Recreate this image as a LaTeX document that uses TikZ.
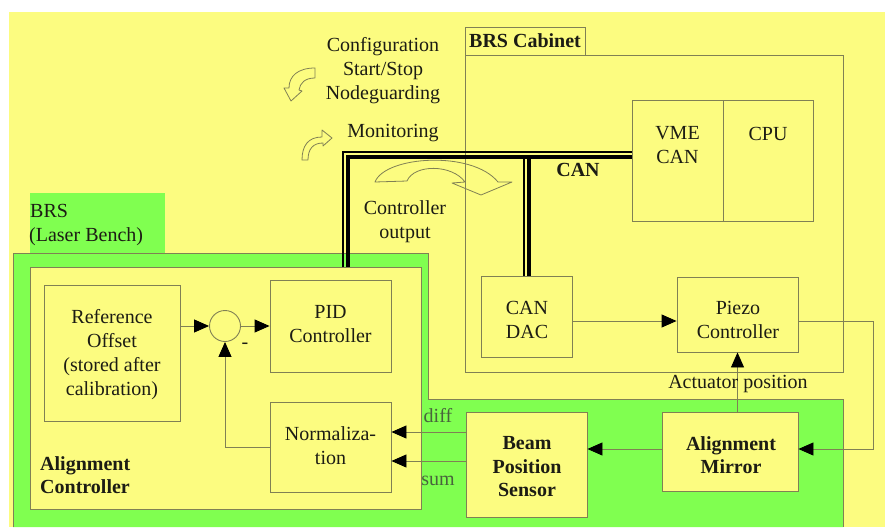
\documentclass[tikz,border=0pt]{standalone}
\usepackage{fontspec}
\setmainfont{Liberation Serif}
\usetikzlibrary{arrows.meta}
\definecolor{bgyellow}{RGB}{252,252,128}
\definecolor{bggreen}{RGB}{128,255,80}
\definecolor{edge}{RGB}{128,128,84}
\definecolor{ink}{RGB}{28,28,20}
\definecolor{sigtext}{RGB}{72,100,60}
\begin{document}
\begin{tikzpicture}[x=1pt,y=-1pt,
  font=\fontsize{20}{24}\selectfont, text=ink,
  blockbox/.style={draw=edge, line width=0.9pt, fill=bgyellow, inner sep=0pt},
  txt/.style={align=center, inner sep=0pt},
  btxt/.style={align=center, inner sep=0pt, font=\fontsize{20}{23.5}\selectfont\bfseries},
  arr/.style={draw=edge, line width=0.9pt, -{Triangle[length=15pt,width=13pt,color=black,fill=black]}},
  hollow/.style={draw=edge, line width=0.8pt, line join=round},
  busthick/.style={draw=black, line width=4.5pt},
  busthin/.style={draw=black, line width=1.5pt}]
\useasboundingbox (0,0) rectangle (885,527);
\fill[white] (0,0) rectangle (885,527);
\fill[bgyellow] (9,12) rectangle (885,527);
% green areas
\fill[bggreen] (30,193) rectangle (165,254);
\draw[edge, line width=0.8pt, fill=bggreen] (13,527) -- (13,253) -- (428,253) -- (428,399) -- (843,399) -- (843,527);
\node[anchor=base west, inner sep=0pt] (brs1) at (30,217) {BRS};
\node[anchor=base west, inner sep=0pt] (brs2) at (29,241) {(Laser Bench)};
% alignment controller
\node[blockbox, minimum width=391pt, minimum height=242pt] (ac) at (225.5,388) {};
\node[anchor=base west, inner sep=0pt, font=\fontsize{20}{24}\selectfont\bfseries] (ac1) at (40,470) {Alignment};
\node[anchor=base west, inner sep=0pt, font=\fontsize{20}{24}\selectfont\bfseries] (ac2) at (40,493) {Controller};
\node[blockbox, minimum width=136pt, minimum height=136pt] (ref) at (112,353) {};
\node[txt] (refT) at (112,355) {Reference\\Offset\\(stored after\\calibration)};
\node[draw=edge, line width=0.9pt, fill=bgyellow, circle, minimum size=31pt, inner sep=0pt] (sum) at (225,326) {};
\node[blockbox, minimum width=121pt, minimum height=92pt] (pid) at (330.5,326) {};
\node[txt] (pidT) at (330.5,324) {PID\\Controller};
\node[blockbox, minimum width=121pt, minimum height=90pt] (norm) at (330.5,447) {};
\node[txt] (normT) at (330.5,446) {Normaliza-\\tion};
\node[txt] (minus) at (245,346) {-};
% cabinet
\node[blockbox, minimum width=378pt, minimum height=317pt] (cab) at (654,213.5) {};
\node[blockbox, minimum width=120pt, minimum height=28pt, font=\fontsize{20}{24}\selectfont\bfseries] (cabtab) at (525,41) {BRS Cabinet};
\node[blockbox, minimum width=91pt, minimum height=121pt] (vme) at (677.5,160.5) {};
\node[blockbox, minimum width=90pt, minimum height=121pt] (cpu) at (768,160.5) {};
\node[txt] (vmeT) at (677.5,145.5) {VME\\CAN};
\node[txt] (cpuT) at (768,133.5) {CPU};
\node[blockbox, minimum width=91pt, minimum height=81pt] (candac) at (526.5,316.5) {};
\node[txt] (candacT) at (527,320) {CAN\\DAC};
\node[blockbox, minimum width=121pt, minimum height=75pt] (piezo) at (737.5,314.5) {};
\node[txt] (piezoT) at (738,320) {Piezo\\Controller};
% lower band
\node[blockbox, minimum width=136pt, minimum height=79pt] (mirror) at (730,451.5) {};
\node[btxt] (mirrorT) at (731,455) {Alignment\\Mirror};
\node[blockbox, minimum width=121pt, minimum height=105pt] (bps) at (526.5,464.5) {};
\node[btxt] (bpsT) at (527,467) {Beam\\Position\\Sensor};
% helper coordinates
\coordinate (yA) at (0,326);
\coordinate (yDiff) at (0,432);
\coordinate (ySum) at (0,461);
\coordinate (yMir) at (0,449);
\coordinate (yDac) at (0,321);
\coordinate (xLoop) at (873,0);
\coordinate (ybus) at (0,157);
\coordinate (ybusT) at (0,152);
\coordinate (tapThick) at (348,267);
\coordinate (tapThin) at (343,267);
% arrows
\draw[arr] (ref.east |- yA) -- (sum.west);
\draw[arr] (sum.east) -- (pid.west |- yA);
\draw[arr] (norm.west) -| (sum.south);
\draw[arr] (bps.west |- yDiff) -- (norm.east |- yDiff);
\draw[arr] (bps.west |- ySum) -- (norm.east |- ySum);
\draw[arr] (mirror.west |- yMir) -- (bps.east |- yMir);
\draw[arr] (candac.east |- yDac) -- (piezo.west |- yDac);
\draw[arr] (piezo.east |- yDac) -- (xLoop |- yDac) -- (xLoop |- yMir) -- (mirror.east |- yMir);
\draw[arr] (piezo.south |- mirror.north) -- (piezo.south);
% signal labels
\node[txt, text=sigtext] (diffT) at (438,416) {diff};
\node[txt, text=sigtext] (sumT) at (438,480.5) {sum};
\node[txt] (actT) at (738,384.5) {Actuator position};
% CAN bus
\draw[busthick] (tapThick) |- (vme.west |- ybus);
\draw[busthin] (tapThin) |- (vme.west |- ybusT);
\draw[busthick] ([xshift=2.5pt]candac.north |- ybus) -- ([xshift=2.5pt]candac.north);
\draw[busthin] ([xshift=-2.5pt]candac.north |- ybus) -- ([xshift=-2.5pt]candac.north);
\node[txt, font=\fontsize{20}{24}\selectfont\bfseries] (canT) at (578,170) {CAN};
% texts top
\node[txt] (cfgT) at (383,71) {Configuration\\Start/Stop\\Nodeguarding};
\node[txt] (monT) at (393,133.5) {Monitoring};
\node[txt] (outT) at (405,221.5) {Controller\\output};
% hollow arrows
\draw[hollow] (315,68) -- (315,78) .. controls (305,78) and (300,83) .. (299,90) -- (302,91) -- (291,101) -- (284,88) -- (289,88) .. controls (289,76) and (298,68) .. cycle;
\draw[hollow] (302,160) .. controls (302,146) and (308,137) .. (322,137) -- (322,130) -- (332,138) -- (323,146) -- (323,143) .. controls (313,143) and (308,149) .. (308,160) -- cycle;
\draw[hollow] (375,182) .. controls (385,156) and (472,150) .. (498,182) -- (512,182) -- (481,195) -- (452,183) -- (465,182) .. controls (452,164) and (414,164) .. (407,181) -- cycle;
\end{tikzpicture}
\end{document}
